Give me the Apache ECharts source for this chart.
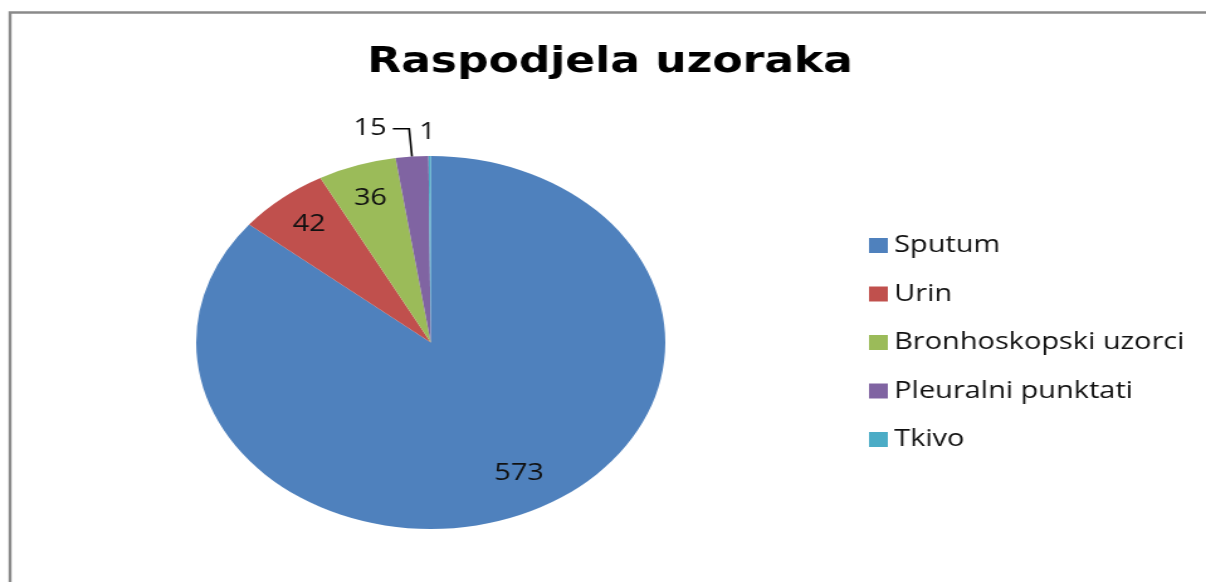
<!DOCTYPE html>
<html>
<head>
  <meta charset="utf-8">
  <title>Raspodjela uzoraka</title>
  <script src="https://cdn.jsdelivr.net/npm/echarts@6/dist/echarts.min.js"></script>
</head>
<style>
  html,
  body {
    margin: 0;
    padding: 0;
    width: 1206px;
    height: 582px;
    overflow: hidden;
    background: #fff;
  }
  /* the original picture is stretched sideways, so the chart is drawn narrow and stretched */
  #chart {
    width: 959px;
    height: 582px;
    transform: scaleX(1.2576);
    transform-origin: 0 0;
  }
</style>

<body>
  <div id="chart"></div>

  <script>
    // podaci
    const categories = ['Sputum', 'Urin', 'Bronhoskopski uzorci', 'Pleuralni punktati', 'Tkivo'];
    const counts = [573, 42, 36, 15, 1];
    const colors = ['#4F81BD', '#C0504D', '#9BBB59', '#8064A2', '#4BACC6'];

    const center = [342.5, 342.5];
    const R = 186.5;
    const labelFont = { fontFamily: 'Open Sans', fontSize: 23, color: '#111' };

    // labels for the two thin slices sit outside, the rest inside
    const labelData = categories.map((name, i) => {
      const item = { name: name, value: counts[i] };
      if (i === 3) {
        item.label = { position: 'outside' };
        item.labelLine = { show: true, length: 28, length2: 13 };
      } else if (i === 4) {
        item.label = { position: 'outside' };
        item.labelLine = { show: false, length: 24, length2: 0 };
      }
      return item;
    });

    const chart = echarts.init(document.getElementById('chart'));
    const option = {
      animation: false,
      color: colors,
      title: {
        text: 'Raspodjela uzoraka',
        left: 287,
        top: 40,
        textStyle: {
          fontFamily: 'DejaVu Sans',
          fontWeight: 'bold',
          fontSize: 35,
          color: '#000'
        }
      },
      legend: {
        orient: 'vertical',
        left: 686,
        top: 229,
        icon: 'rect',
        itemWidth: 15,
        itemHeight: 15,
        itemGap: 25.5,
        data: categories,
        textStyle: labelFont
      },
      graphic: [{
        type: 'rect',
        shape: { x: 8, y: 12.5, width: 2000, height: 1000 },
        style: { fill: 'none', stroke: '#8a8a8a', lineWidth: 2.4 },
        silent: true
      }],
      series: [
        {
          type: 'pie',
          center: center,
          radius: [0, R],
          startAngle: 90,
          clockwise: true,
          label: { show: false },
          labelLine: { show: false },
          emphasis: { disabled: true },
          data: categories.map((name, i) => ({ name: name, value: counts[i] }))
        },
        {
          // transparent copy that only carries the value labels
          type: 'pie',
          center: center,
          radius: [112, R],
          startAngle: 90,
          clockwise: true,
          silent: true,
          avoidLabelOverlap: false,
          itemStyle: { color: 'rgba(0,0,0,0)' },
          label: Object.assign({ show: true, position: 'inside', formatter: '{c}' }, labelFont),
          labelLine: { lineStyle: { color: '#000', width: 1.6 } },
          labelLayout: function (p) {
            if (p.dataIndex === 4) return { dx: 10 };
            if (p.dataIndex === 0) return { dx: 5, dy: -7 };
            return {};
          },
          data: labelData
        }
      ]
    };
    chart.setOption(option);
  </script>
</body>
</html>
